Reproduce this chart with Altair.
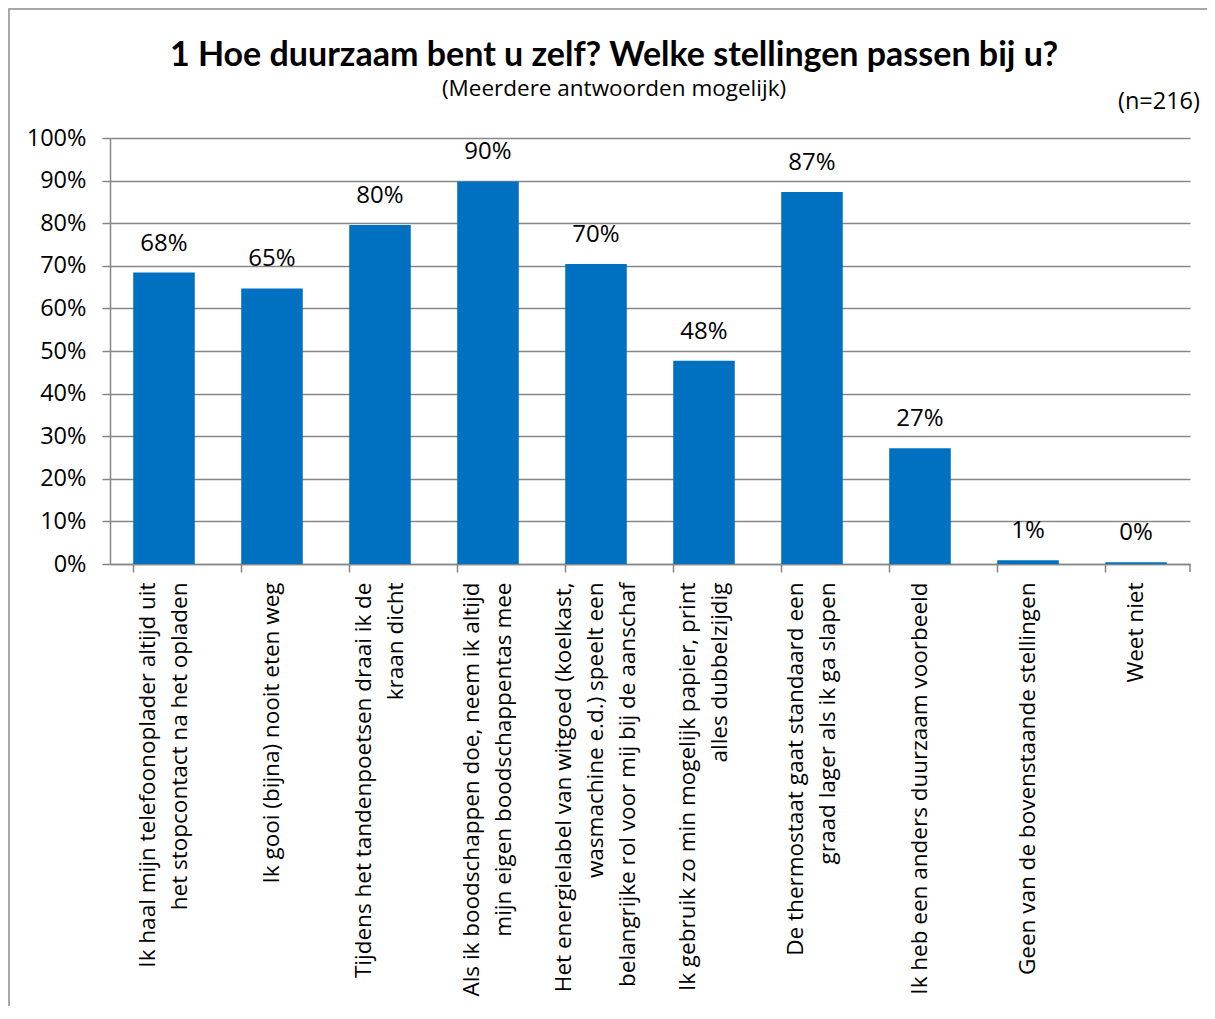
import altair as alt
import pandas as pd

categories = [
    "Ik haal mijn telefoonoplader altijd uit|het stopcontact na het opladen",
    "Ik gooi (bijna) nooit eten weg",
    "Tijdens het tandenpoetsen draai ik de|kraan dicht",
    "Als ik boodschappen doe, neem ik altijd|mijn eigen boodschappentas mee",
    "Het energielabel van witgoed (koelkast,|wasmachine e.d.) speelt een|belangrijke rol voor mij bij de aanschaf",
    "Ik gebruik zo min mogelijk papier, print|alles dubbelzijdig",
    "De thermostaat gaat standaard een|graad lager als ik ga slapen",
    "Ik heb een anders duurzaam voorbeeld",
    "Geen van de bovenstaande stellingen",
    "Weet niet",
]
values = [0.684, 0.647, 0.796, 0.898, 0.704, 0.477, 0.873, 0.272, 0.009, 0.004]

title_text = "1 Hoe duurzaam bent u zelf? Welke stellingen passen bij u?"
subtitle_text = "(Meerdere antwoorden mogelijk)"
n_text = "(n=216)"

df = pd.DataFrame({"cat": categories, "val": values})

FONT = "Open Sans"
BLUE = "#0070C0"
GRID = "#868686"
LH = 32

n_lines = "length(split(datum.label, '|'))"

x_enc = alt.X(
    "cat:N",
    sort=categories,
    title=None,
    scale=alt.Scale(paddingInner=0.43, paddingOuter=0.215),
    axis=alt.Axis(
        labelAngle=-90,
        labelAlign="right",
        labelBaseline="middle",
        labelExpr="split(datum.label, '|')",
        labelLineHeight=LH,
        labelFontSize=22.5,
        labelFont=FONT,
        labelColor="#000000",
        labelPadding=10,
        labelLimit=0,
        labelOffset={
            "condition": [
                {"test": n_lines + " == 3", "value": -LH},
                {"test": n_lines + " == 2", "value": -LH / 2},
            ],
            "value": 0,
        },
        bandPosition=0,
        tickSize=8,
        tickColor=GRID,
        tickWidth=1.5,
        domainColor=GRID,
        domainWidth=1.5,
        grid=False,
    ),
)
y_enc = alt.Y(
    "val:Q",
    title=None,
    scale=alt.Scale(domain=[0, 1]),
    axis=alt.Axis(
        values=[i / 10 for i in range(11)],
        format=".0%",
        labelFontSize=23.5,
        labelFont=FONT,
        labelColor="#000000",
        labelPadding=16,
        tickSize=8,
        tickColor=GRID,
        tickWidth=1.5,
        domainColor=GRID,
        domainWidth=1.5,
        grid=True,
        gridColor=GRID,
        gridWidth=1.5,
    ),
)

base = alt.Chart(df)
bars = base.mark_bar(color=BLUE).encode(x=x_enc, y=y_enc)
labels = base.mark_text(
    baseline="bottom", dy=-17, fontSize=24, font=FONT, color="#000000"
).encode(x=alt.X("cat:N", sort=categories), y="val:Q", text=alt.Text("val:Q", format=".0%"))

texts = pd.DataFrame({"t": [title_text, subtitle_text, n_text]})
title_mark = alt.Chart(texts).transform_filter(alt.datum.t == title_text).mark_text(
    align="center", baseline="alphabetic", fontSize=34, font="Lato", fontWeight="bold", color="#000000"
).encode(x=alt.value(504), y=alt.value(-72), text="t:N")
subtitle_mark = alt.Chart(texts).transform_filter(alt.datum.t == subtitle_text).mark_text(
    align="center", baseline="alphabetic", fontSize=22.5, font=FONT, color="#000000"
).encode(x=alt.value(504), y=alt.value(-42), text="t:N")
ntext = alt.Chart(texts).transform_filter(alt.datum.t == n_text).mark_text(
    align="right", baseline="alphabetic", fontSize=23.5, font=FONT, color="#000000"
).encode(x=alt.value(1090), y=alt.value(-29), text="t:N")

end_tick = alt.Chart(pd.DataFrame({"t": [0]})).mark_rule(color=GRID, strokeWidth=1.5).encode(
    x=alt.value(1080), y=alt.value(426), y2=alt.value(434)
)

border = alt.Chart(pd.DataFrame({"t": [0]})).mark_rect(
    fill=None, stroke="#8c8c8c", strokeWidth=1.5
).encode(x=alt.value(-101), x2=alt.value(1400), y=alt.value(-129), y2=alt.value(1200))

chart = alt.layer(border, bars, labels, title_mark, subtitle_mark, ntext, end_tick).properties(
    width=1080,
    height=426,
    autosize=alt.AutoSizeParams(type="none"),
    padding={"left": 102, "top": 130, "right": 17, "bottom": 442},
).configure_view(stroke=None)

chart.save("out.html", embed_options={"renderer": "svg", "actions": False})
